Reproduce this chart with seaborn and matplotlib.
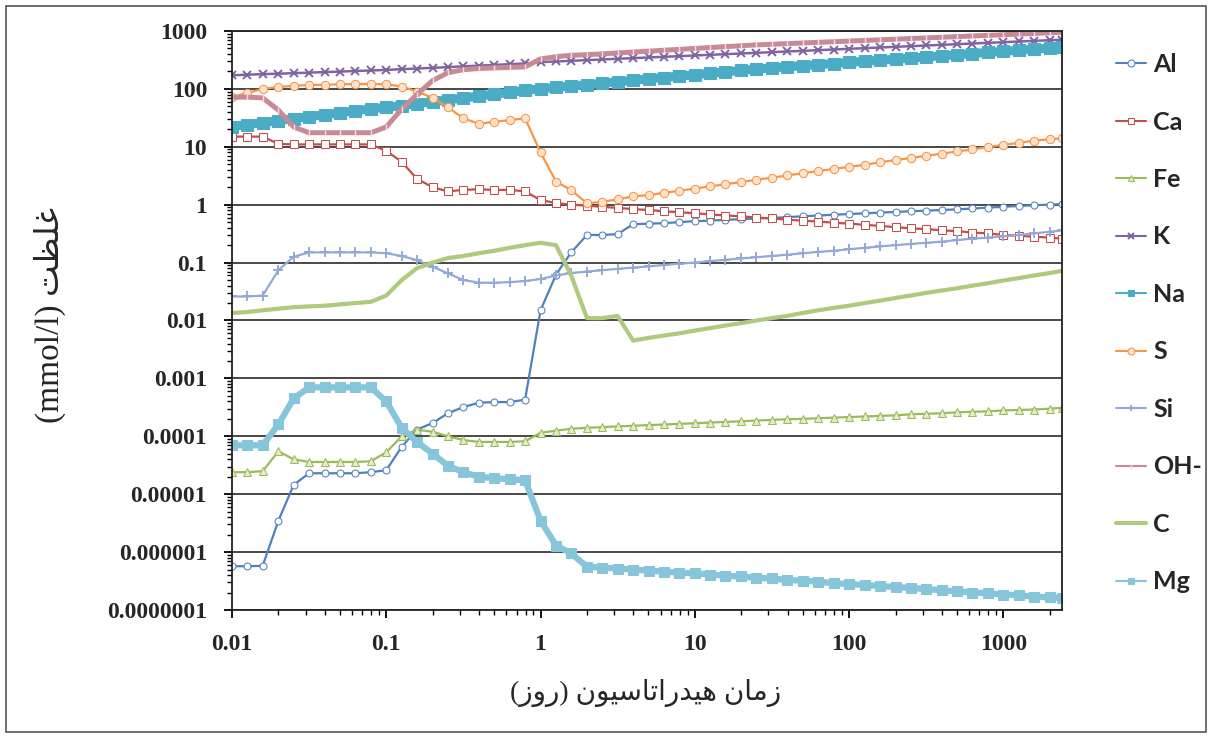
import matplotlib
matplotlib.use("Agg")
import matplotlib.pyplot as plt
import seaborn as sns
from matplotlib.ticker import LogLocator, NullFormatter
from matplotlib.patches import Rectangle

# ---------------------------------------------------------------
# Data
# ---------------------------------------------------------------
time_days = [0.01, 0.0126, 0.0158, 0.02, 0.0251, 0.0316, 0.0398, 0.0501, 0.0631, 0.0794,
             0.1, 0.126, 0.158, 0.2, 0.251, 0.316, 0.398, 0.501, 0.631, 0.794,
             1, 1.26, 1.58, 2, 2.51, 3.16, 3.98, 5.01, 6.31, 7.94,
             10, 12.6, 15.8, 20, 25.1, 31.6, 39.8, 50.1, 63.1, 79.4,
             100, 126, 158, 200, 251, 316, 398, 501, 631, 794,
             1000, 1260, 1580, 2000, 2400]

al = [5.7e-7, 5.7e-7, 5.8e-7, 3.5e-6, 1.45e-5, 2.3e-5, 2.3e-5, 2.3e-5, 2.3e-5, 2.4e-5,
      2.6e-5, 6.6e-5, 1.3e-4, 1.7e-4, 2.5e-4, 3.2e-4, 3.8e-4, 3.9e-4, 3.9e-4, 4.3e-4,
      0.015, 0.062, 0.15, 0.30, 0.30, 0.31, 0.46, 0.47, 0.48, 0.50,
      0.52, 0.53, 0.55, 0.56, 0.58, 0.59, 0.61, 0.63, 0.65, 0.67,
      0.69, 0.71, 0.73, 0.75, 0.77, 0.79, 0.81, 0.83, 0.86, 0.89,
      0.92, 0.95, 0.98, 1.0, 1.03]

ca = [15, 15, 15, 11.2, 11, 11, 11, 11, 11, 11,
      8.5, 5.5, 2.8, 2.0, 1.7, 1.8, 1.85, 1.8, 1.8, 1.7,
      1.2, 1.07, 1.0, 0.96, 0.92, 0.88, 0.84, 0.81, 0.77, 0.74,
      0.71, 0.68, 0.65, 0.63, 0.60, 0.58, 0.55, 0.53, 0.51, 0.49,
      0.47, 0.45, 0.43, 0.41, 0.39, 0.38, 0.36, 0.35, 0.33, 0.32,
      0.30, 0.29, 0.28, 0.27, 0.26]

fe = [2.4e-5, 2.4e-5, 2.5e-5, 5.5e-5, 4.0e-5, 3.6e-5, 3.6e-5, 3.6e-5, 3.6e-5, 3.7e-5,
      5.3e-5, 1.0e-4, 1.3e-4, 1.2e-4, 1.0e-4, 8.6e-5, 8.0e-5, 8.0e-5, 8.0e-5, 8.2e-5,
      1.15e-4, 1.25e-4, 1.35e-4, 1.4e-4, 1.44e-4, 1.48e-4, 1.52e-4, 1.56e-4, 1.6e-4, 1.64e-4,
      1.68e-4, 1.73e-4, 1.77e-4, 1.82e-4, 1.87e-4, 1.92e-4, 1.97e-4, 2.0e-4, 2.05e-4, 2.1e-4,
      2.15e-4, 2.2e-4, 2.25e-4, 2.3e-4, 2.4e-4, 2.45e-4, 2.5e-4, 2.6e-4, 2.65e-4, 2.7e-4,
      2.8e-4, 2.85e-4, 2.9e-4, 3.0e-4, 3.1e-4]

k = [172, 176, 180, 183, 187, 191, 195, 199, 204, 208,
     213, 219, 225, 231, 238, 245, 252, 260, 267, 275,
     290, 298, 306, 314, 322, 331, 340, 349, 358, 368,
     378, 388, 398, 409, 420, 431, 443, 454, 467, 479,
     492, 505, 519, 533, 547, 562, 577, 592, 608, 625,
     641, 659, 676, 694, 705]

na = [22.4, 24.2, 26.2, 28.3, 30.6, 33.1, 35.8, 38.7, 41.9, 45.3,
      47.9, 51.6, 55.6, 60, 64.6, 69.6, 75, 80.9, 87.2, 94,
      100, 106, 112, 118, 125, 133, 140, 149, 157, 166,
      176, 186, 197, 208, 220, 231, 241, 251, 262, 274,
      286, 300, 313, 326, 339, 356, 372, 389, 407, 426,
      445, 465, 485, 505, 525]

s = [72, 85, 100, 108, 113, 117, 118, 120, 121, 122,
     120, 110, 90, 70, 48, 31, 25, 27, 29, 31,
     8.0, 2.5, 1.8, 1.05, 1.13, 1.23, 1.4, 1.46, 1.6, 1.74,
     1.9, 2.07, 2.26, 2.46, 2.7, 2.93, 3.2, 3.5, 3.8, 4.15,
     4.5, 4.9, 5.4, 5.9, 6.4, 7.0, 7.6, 8.3, 9.0, 9.9,
     10.8, 11.7, 12.8, 13.5, 14]

si = [0.026, 0.026, 0.027, 0.074, 0.126, 0.15, 0.15, 0.15, 0.15, 0.15,
      0.145, 0.13, 0.11, 0.085, 0.065, 0.05, 0.045, 0.045, 0.046, 0.048,
      0.052, 0.06, 0.066, 0.07, 0.074, 0.078, 0.082, 0.086, 0.091, 0.096,
      0.10, 0.106, 0.112, 0.118, 0.124, 0.13, 0.137, 0.145, 0.153, 0.16,
      0.17, 0.18, 0.19, 0.20, 0.21, 0.22, 0.23, 0.245, 0.26, 0.27,
      0.285, 0.30, 0.32, 0.34, 0.36]

oh = [72, 72, 70, 43, 22, 17.5, 17.5, 17.5, 17.5, 17.5,
      22, 45, 80, 140, 190, 215, 225, 230, 235, 240,
      330, 360, 380, 390, 403, 418, 433, 449, 465, 482,
      500, 518, 537, 556, 576, 590, 605, 621, 637, 653,
      670, 687, 704, 722, 741, 760, 779, 799, 820, 841,
      862, 884, 907, 930, 955]

c = [0.0135, 0.014, 0.015, 0.016, 0.017, 0.0175, 0.018, 0.019, 0.02, 0.021,
     0.027, 0.05, 0.08, 0.10, 0.12, 0.13, 0.145, 0.16, 0.18, 0.20,
     0.22, 0.20, 0.06, 0.011, 0.011, 0.012, 0.0045, 0.005, 0.0055, 0.006,
     0.0067, 0.0074, 0.0082, 0.009, 0.01, 0.011, 0.012, 0.0135, 0.015, 0.0165,
     0.018, 0.02, 0.022, 0.0245, 0.027, 0.03, 0.033, 0.036, 0.04, 0.044,
     0.049, 0.054, 0.06, 0.066, 0.072]

mg = [7e-5, 7e-5, 7e-5, 1.6e-4, 4.5e-4, 7e-4, 7e-4, 7e-4, 7e-4, 7e-4,
      4.0e-4, 1.4e-4, 8.0e-5, 5.0e-5, 3.1e-5, 2.4e-5, 2.0e-5, 1.9e-5, 1.8e-5, 1.75e-5,
      3.5e-6, 1.3e-6, 9.5e-7, 5.6e-7, 5.4e-7, 5.2e-7, 5.0e-7, 4.8e-7, 4.6e-7, 4.4e-7,
      4.3e-7, 4.1e-7, 3.9e-7, 3.8e-7, 3.6e-7, 3.5e-7, 3.3e-7, 3.2e-7, 3.1e-7, 2.9e-7,
      2.8e-7, 2.7e-7, 2.6e-7, 2.5e-7, 2.4e-7, 2.3e-7, 2.2e-7, 2.1e-7, 2.0e-7, 1.95e-7,
      1.85e-7, 1.8e-7, 1.7e-7, 1.65e-7, 1.6e-7]

species = ["Al", "Ca", "Fe", "K", "Na", "S", "Si", "OH-", "C", "Mg"]
series = [al, ca, fe, k, na, s, si, oh, c, mg]

y_ticks = [1e-7, 1e-6, 1e-5, 1e-4, 1e-3, 1e-2, 1e-1, 1, 10, 100, 1000]
y_tick_labels = ["0.0000001", "0.000001", "0.00001", "0.0001", "0.001", "0.01",
                 "0.1", "1", "10", "100", "1000"]
x_ticks = [0.01, 0.1, 1, 10, 100, 1000]
x_tick_labels = ["0.01", "0.1", "1", "10", "100", "1000"]

# ---------------------------------------------------------------
# Persian labels (shaped by hand: matplotlib has no Arabic shaping)
# ---------------------------------------------------------------
FORMS = {
    "ز": ("\uFEAF", "\uFEB0"),
    "ا": ("\uFE8D", "\uFE8E"),
    "د": ("\uFEA9", "\uFEAA"),
    "ر": ("\uFEAD", "\uFEAE"),
    "و": ("\uFEED", "\uFEEE"),
    "م": ("\uFEE1", "\uFEE2", "\uFEE3", "\uFEE4"),
    "ن": ("\uFEE5", "\uFEE6", "\uFEE7", "\uFEE8"),
    "ه": ("\uFEE9", "\uFEEA", "\uFEEB", "\uFEEC"),
    "ی": ("\uFBFC", "\uFBFD", "\uFBFE", "\uFBFF"),
    "ت": ("\uFE95", "\uFE96", "\uFE97", "\uFE98"),
    "س": ("\uFEB1", "\uFEB2", "\uFEB3", "\uFEB4"),
    "غ": ("\uFECD", "\uFECE", "\uFECF", "\uFED0"),
    "ل": ("\uFEDD", "\uFEDE", "\uFEDF", "\uFEE0"),
    "ظ": ("\uFEC5", "\uFEC6", "\uFEC7", "\uFEC8"),
}


def shape(word):
    # returns the word in visual (left-to-right) order with joined forms
    out = []
    for i, ch in enumerate(word):
        f = FORMS[ch]
        joins_prev = i > 0 and len(FORMS[word[i - 1]]) == 4
        joins_next = i < len(word) - 1 and len(f) == 4
        if joins_prev and joins_next:
            out.append(f[3])
        elif joins_prev:
            out.append(f[1])
        elif joins_next:
            out.append(f[2])
        else:
            out.append(f[0])
    return "".join(reversed(out))


x_label = "(" + shape("روز") + ") " + shape("هیدراتاسیون") + " " + shape("زمان")
y_label = "(mmol/l) " + shape("غلظت")

# ---------------------------------------------------------------
# Styles
# ---------------------------------------------------------------
styles = {
    "Al":  dict(color="#4F81BD", marker="o", markersize=5, markerfacecolor="white", linewidth=1.6),
    "Ca":  dict(color="#C0504D", marker="s", markersize=5.5, markerfacecolor="white", linewidth=1.6),
    "Fe":  dict(color="#9BBB59", marker="^", markersize=6, markerfacecolor="#e2edc9", linewidth=1.6),
    "K":   dict(color="#8064A2", marker="x", markersize=6, markeredgewidth=1.4, linewidth=1.8),
    "Na":  dict(color="#4BACC6", marker="s", markersize=8, linewidth=6.5),
    "S":   dict(color="#F79646", marker="o", markersize=6, markerfacecolor="#fde3cc", linewidth=1.6),
    "Si":  dict(color="#95A9D6", marker="+", markersize=7, markeredgewidth=1.4, linewidth=1.6),
    "OH-": dict(color="#C98A98", marker="|", markersize=4, markeredgewidth=1.0,
                markeredgecolor="#f3dde2", linewidth=3.6),
    "C":   dict(color="#AFC97E", marker=None, linewidth=3),
    "Mg":  dict(color="#86C5DA", marker="s", markersize=7, linewidth=4.5),
}

sns.set_style("white")
fig = plt.figure(figsize=(12.12, 7.38), dpi=100)
ax = fig.add_axes([232 / 1212, 1 - 610 / 738, (1062 - 232) / 1212, (610 - 31) / 738])
ax.set_xscale("log")
ax.set_yscale("log")

for name, vals in zip(species, series):
    st = dict(styles[name])
    if st.get("marker"):
        st.setdefault("markeredgecolor", st["color"])
    sns.lineplot(x=time_days, y=vals, ax=ax, label=name, estimator=None, sort=False, **st)

if ax.get_legend() is not None:
    ax.get_legend().remove()

ax.set_xlim(0.01, 2400)
ax.set_ylim(1e-7, 1000)
ax.set_yticks(y_ticks)
ax.set_yticklabels(y_tick_labels)
ax.set_xticks(x_ticks)
ax.set_xticklabels(x_tick_labels)
ax.xaxis.set_minor_locator(LogLocator(base=10, subs=range(2, 10), numticks=20))
ax.yaxis.set_minor_locator(LogLocator(base=10, subs=range(2, 10), numticks=30))
ax.xaxis.set_minor_formatter(NullFormatter())
ax.yaxis.set_minor_formatter(NullFormatter())

ax.yaxis.grid(True, which="major", color="#3a3a3a", linewidth=1.3)
ax.xaxis.grid(False)
ax.set_axisbelow(True)
for sp in ax.spines.values():
    sp.set_color("#222222")
    sp.set_linewidth(1.3)

ax.tick_params(which="major", direction="out", length=6, width=1.3, color="black",
               labelsize=17, left=True, bottom=True)
ax.tick_params(axis="y", which="major", pad=12)
ax.tick_params(axis="x", which="major", pad=11)
ax.tick_params(which="minor", direction="out", length=3.5, width=1.0, color="black",
               left=True, bottom=True)
for lab in ax.get_xticklabels() + ax.get_yticklabels():
    lab.set_fontfamily("Liberation Serif")
    lab.set_fontweight("bold")
ax.set_xlabel("")
ax.set_ylabel("")

fig.text(646 / 1212, 1 - 693 / 738, x_label, ha="center", va="center",
         fontsize=20, family=["Liberation Serif", "DejaVu Sans"])
fig.text(50 / 1212, 1 - 315 / 738, y_label, ha="center", va="center", rotation=90,
         fontsize=24, family=["Liberation Serif", "DejaVu Sans"])

handles, labels = ax.get_legend_handles_labels()
leg = fig.legend(handles, labels, loc="upper left", bbox_to_anchor=(1116 / 1212, 1 - 53 / 738),
                 frameon=False, labelspacing=1.38, handlelength=1.2, handletextpad=0.28,
                 borderaxespad=0, borderpad=0, prop=dict(family="Lato", weight="bold", size=18))
# legend keys in the reference are thin lines with small markers
for name, line in zip(labels, leg.get_lines()):
    line.set_linewidth(3 if name == "C" else 1.5)
    line.set_markersize(5)

fig.patches.append(Rectangle((6 / 1212, 6 / 738), 1200 / 1212, 726 / 738,
                             transform=fig.transFigure, fill=False,
                             edgecolor="#555555", linewidth=1.2))

fig.savefig("out.png", dpi=100)
